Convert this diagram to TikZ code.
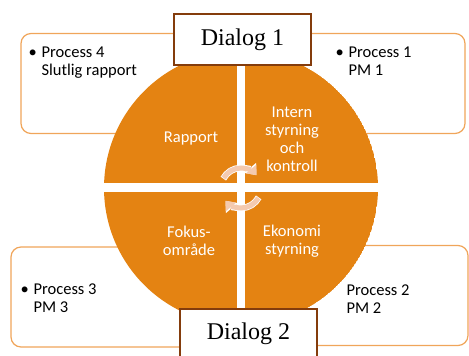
\documentclass[tikz,border=0pt]{standalone}
\usepackage{fontspec}
\setmainfont{Carlito}
\newfontfamily\dialogfont{Liberation Serif}
\usetikzlibrary{positioning,arrows.meta}

\definecolor{wheelorange}{RGB}{228,131,18}
\definecolor{boxline}{RGB}{240,165,90}
\definecolor{dialogline}{RGB}{132,60,12}
\definecolor{arrowpeach}{RGB}{244,202,176}

\newcommand{\procitem}[2]{\begin{tabular}{@{}l@{}l@{}}\makebox[13pt][l]{\textbullet}&#1\\&#2\end{tabular}}

\tikzset{
  procbox/.style={draw=boxline, line width=1.2pt, rounded corners=10pt, fill=white, minimum height=100pt},
  proctext/.style={inner sep=0pt, font=\fontsize{16.5}{18}\selectfont, align=left},
  wheeltext/.style={text=white, font=\fontsize{16.5}{18}\selectfont, align=center},
  dialogbox/.style={draw=dialogline, line width=2pt, fill=white, minimum width=137pt, font=\dialogfont\fontsize{24}{28}\selectfont},
  cyclearrow/.style={line width=5pt, arrowpeach, -{Triangle[width=13pt,length=8pt]}},
  cycleedge/.style={line width=6.6pt, white, -{Triangle[width=15pt,length=9.5pt]}}
}

\begin{document}
\begin{tikzpicture}[x=1pt,y=1pt]
	\useasboundingbox (0,0) rectangle (469,356);
	
	% process boxes behind the wheel
	\node[procbox, minimum width=170pt] (box4) at (106,272.5) {};
	\node[procbox, minimum width=170pt] (box1) at (380,272.5) {};
	\node[procbox, minimum width=210pt] (box3) at (116,59) {};
	\node[procbox, minimum width=210pt] (box2) at (363,60.5) {};
	
	\node[proctext, below right=11.4pt and 8pt of box4.north west] (proc4) {\procitem{Process 4}{Slutlig rapport}};
	\node[proctext, below right=11.4pt and 41pt of box1.north west] (proc1) {\procitem{Process 1}{PM 1}};
	\node[proctext, below right=35.4pt and 10pt of box3.north west] (proc3) {\procitem{Process 3}{PM 3}};
	\node[proctext, below right=37.4pt and 89pt of box2.north west] (proc2) {\begin{tabular}{@{}l@{}}Process 2\\PM 2\end{tabular}};
	
	% the wheel
	\coordinate (c) at (241,168);
	\begin{scope}
		\clip (c) circle (137);
		\fill[wheelorange] (c) circle (137);
		\fill[white] (237,0) rectangle (245,356);
		\fill[white] (90,164) rectangle (400,172.5);
	\end{scope}
	
	\node[wheeltext] (rapport) at (191,217) {Rapport};
	\node[wheeltext] (intern) at (292,217) {Intern\\styrning\\och\\kontroll};
	\node[wheeltext] (fokus) at (189,115) {Fokus-\\område};
	\node[wheeltext] (ekonomi) at (292,115) {Ekonomi\\styrning};
	
	\draw[cycleedge] (c) ++(152:20) arc[start angle=152, end angle=40, radius=20];
	\draw[cycleedge] (c) ++(-28:20) arc[start angle=-28, end angle=-140, radius=20];
	\draw[cyclearrow] (c) ++(150:20) arc[start angle=150, end angle=40, radius=20];
	\draw[cyclearrow] (c) ++(-30:20) arc[start angle=-30, end angle=-140, radius=20];
	
	% dialog boxes on top
	\node[dialogbox, minimum height=51pt] (dialog1) at (242.5,316.5) {Dialog 1};
	\node[dialogbox, minimum height=50pt] (dialog2) at (248.5,22) {Dialog 2};
\end{tikzpicture}
\end{document}
